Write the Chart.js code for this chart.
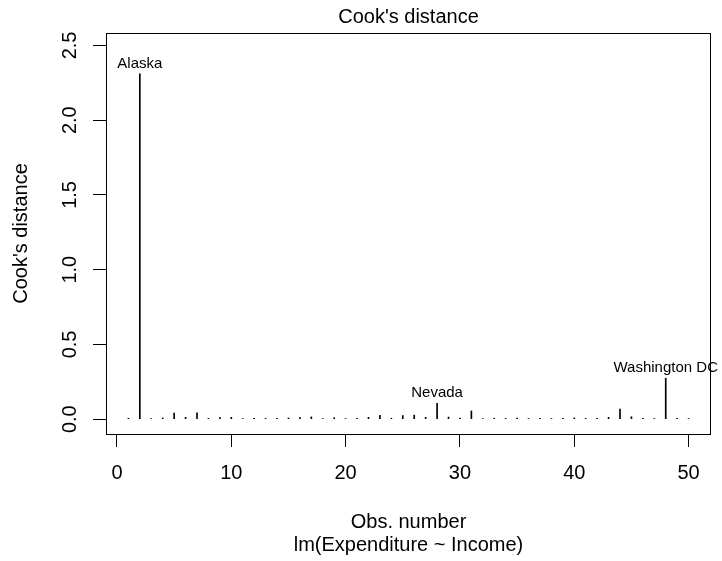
<!DOCTYPE html>
<html>
<head>
<meta charset="utf-8">
<script src="https://cdn.jsdelivr.net/npm/chart.js@4/dist/chart.umd.min.js"></script>
<style>
  html, body { margin: 0; padding: 0; background: #fff; }
  canvas { display: block; }
</style>
</head>
<body>
<canvas id="cookChart" width="722" height="561"></canvas>
<script>
const obsNumber = [1, 2, 3, 4, 5, 6, 7, 8, 9, 10,
                   11, 12, 13, 14, 15, 16, 17, 18, 19, 20,
                   21, 22, 23, 24, 25, 26, 27, 28, 29, 30,
                   31, 32, 33, 34, 35, 36, 37, 38, 39, 40,
                   41, 42, 43, 44, 45, 46, 47, 48, 49, 50];
const cooksD = [0.006, 2.31, 0.004, 0.008, 0.040, 0.012, 0.042, 0.005, 0.010, 0.012,
                0.004, 0.006, 0.005, 0.006, 0.008, 0.010, 0.015, 0.004, 0.010, 0.004,
                0.005, 0.012, 0.025, 0.006, 0.024, 0.027, 0.012, 0.106, 0.014, 0.008,
                0.055, 0.004, 0.006, 0.005, 0.008, 0.004, 0.005, 0.004, 0.006, 0.008,
                0.005, 0.006, 0.012, 0.068, 0.016, 0.005, 0.004, 0.274, 0.006, 0.004];
const labelObs = [2, 28, 48];
const labelNames = ['Alaska', 'Nevada', 'Washington DC'];
const xTicks = [0, 10, 20, 30, 40, 50];
const yTicks = [0, 0.5, 1, 1.5, 2, 2.5];
const yTickLabels = ['0.0', '0.5', '1.0', '1.5', '2.0', '2.5'];

const FONT = "'Liberation Sans', Arial, sans-serif";

// R-like decorations: box, title, axis titles, rotated y labels, point ids
const rDecor = {
    id: 'rDecor',
    afterDraw(chart) {
        const ctx = chart.ctx;
        const a = chart.chartArea;
        const xs = chart.scales.x, ys = chart.scales.y;
        ctx.save();
        ctx.strokeStyle = '#000';
        ctx.lineWidth = 1;
        ctx.strokeRect(Math.round(a.left) + 0.5, Math.round(a.top) + 0.5,
                       Math.round(a.right - a.left) - 1, Math.round(a.bottom - a.top));
        ctx.fillStyle = '#000';
        ctx.textAlign = 'center';
        ctx.textBaseline = 'alphabetic';
        ctx.font = '20px ' + FONT;
        ctx.fillText("Cook's distance", (a.left + a.right) / 2, 23);
        ctx.fillText('Obs. number', (a.left + a.right) / 2, 528);
        ctx.fillText('lm(Expenditure ~ Income)', (a.left + a.right) / 2, 551);

        // y tick labels, vertical like R
        yTicks.forEach((v, i) => {
            const py = ys.getPixelForValue(v);
            ctx.save();
            ctx.translate(76, py);
            ctx.rotate(-Math.PI / 2);
            ctx.fillText(yTickLabels[i], 0, 0);
            ctx.restore();
        });
        ctx.save();
        ctx.translate(27, (a.top + a.bottom) / 2);
        ctx.rotate(-Math.PI / 2);
        ctx.fillText("Cook's distance", 0, 0);
        ctx.restore();

        // labels for the largest values
        ctx.font = '15px ' + FONT;
        labelObs.forEach((o, i) => {
            const px = xs.getPixelForValue(o);
            const py = ys.getPixelForValue(cooksD[o - 1]);
            ctx.fillText(labelNames[i], px, py - 6);
        });
        ctx.restore();
    }
};

const ctx = document.getElementById('cookChart').getContext('2d');
const cookChart = new Chart(ctx, {
    type: 'bar',
    data: {
        datasets: [{
            data: obsNumber.map((x, i) => ({ x: x, y: cooksD[i] })),
            backgroundColor: '#000',
            borderWidth: 0,
            barThickness: 1
        }]
    },
    options: {
        responsive: false,
        animation: false,
        devicePixelRatio: 1,
        layout: { padding: { top: 33, right: 11, left: 0, bottom: 0 } },
        plugins: {
            legend: { display: false },
            tooltip: { enabled: false },
            title: { display: false }
        },
        scales: {
            x: {
                type: 'linear',
                min: -0.96,
                max: 51.96,
                offset: false,
                afterBuildTicks: (s) => { s.ticks = xTicks.map(v => ({ value: v })); },
                afterFit: (s) => { s.height = 127; },
                grid: { offset: false, drawOnChartArea: false, drawTicks: true, tickLength: 13, color: '#000', lineWidth: 1 },
                border: { display: false },
                ticks: {
                    color: '#000',
                    font: { family: FONT, size: 20 },
                    padding: 14,
                    maxRotation: 0,
                    autoSkip: false
                }
            },
            y: {
                min: -0.0993,
                max: 2.583,
                afterBuildTicks: (s) => { s.ticks = yTicks.map(v => ({ value: v })); },
                afterFit: (s) => { s.width = 106; },
                grid: { drawOnChartArea: false, drawTicks: true, tickLength: 13, color: '#000', lineWidth: 1 },
                border: { display: false },
                ticks: { display: false }
            }
        }
    },
    plugins: [rDecor]
});
</script>
</body>
</html>
